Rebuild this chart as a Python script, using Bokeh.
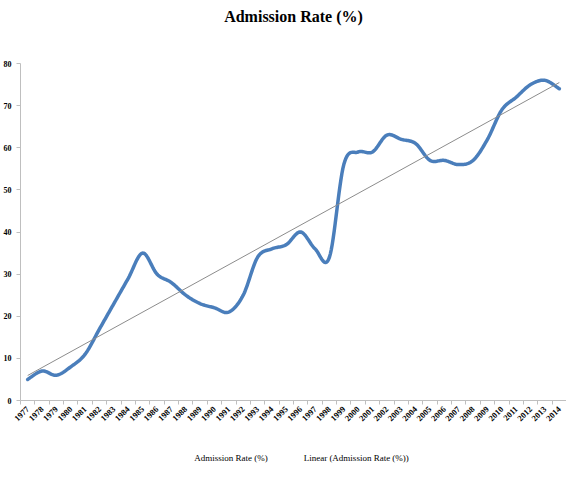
import numpy as np
from bokeh.plotting import figure
from bokeh.layouts import column
from bokeh.models import Range1d, FixedTicker, Legend, LegendItem, Title
from bokeh.embed import file_html
from bokeh.resources import INLINE

years = [str(y) for y in range(1977, 2015)]
admission_rate = [5, 7, 6, 8, 11, 17, 23, 29, 35, 30, 28, 25, 23, 22, 21, 25, 34, 36, 37, 40,
                  36, 34, 56, 59, 59, 63, 62, 61, 57, 57, 56, 57, 62, 69, 72, 75, 76, 74]
y_ticks = [0, 10, 20, 30, 40, 50, 60, 70, 80]
series_name = "Admission Rate (%)"
trend_name = "Linear (Admission Rate (%))"

n = len(years)
xc = np.arange(n) + 0.5
yv = np.array(admission_rate, dtype=float)

# Smoothed line (Excel-style Bezier smoothing) through the data points
sx, sy = [], []
for i in range(n - 1):
    p0 = np.array([xc[max(i - 1, 0)], yv[max(i - 1, 0)]])
    p1 = np.array([xc[i], yv[i]])
    p2 = np.array([xc[i + 1], yv[i + 1]])
    p3 = np.array([xc[min(i + 2, n - 1)], yv[min(i + 2, n - 1)]])
    c1 = p1 + (p2 - p0) / 6.0
    c2 = p2 - (p3 - p1) / 6.0
    ts = np.linspace(0, 1, 16) if i == n - 2 else np.linspace(0, 1, 16)[:-1]
    for t in ts:
        b = ((1 - t) ** 3) * p1 + 3 * ((1 - t) ** 2) * t * c1 + 3 * (1 - t) * t * t * c2 + (t ** 3) * p2
        sx.append(float(b[0])); sy.append(float(b[1]))

slope, intercept = np.polyfit(xc, yv, 1)
tx = [float(xc[0]), float(xc[-1])]
ty = [float(slope * xc[0] + intercept), float(slope * xc[-1] + intercept)]

BLUE = "#4A7EBB"
GREY = "#8C8C8C"

p = figure(frame_width=546, frame_height=337, x_range=Range1d(0, n), y_range=Range1d(0, 80),
           output_backend="svg", toolbar_location=None, title=None,
           min_border_left=17, min_border_right=0, min_border_top=0, min_border_bottom=0)
p.outline_line_color = None
p.xgrid.grid_line_color = None
p.ygrid.grid_line_color = None
p.background_fill_color = "white"
p.border_fill_color = "white"

# spacer (nearest to the frame) then the visible title
p.add_layout(Title(text=" ", text_font_size="20px"), "above")
p.add_layout(Title(text=series_name, align="center", text_font="Liberation Serif",
                   text_font_style="bold", text_font_size="16px", text_color="black"), "above")

p.line(sx, sy, line_color=BLUE, line_width=3.5, line_join="round", line_cap="round")
p.line(tx, ty, line_color=GREY, line_width=1)

xa = p.xaxis[0]
xa.ticker = FixedTicker(ticks=[float(v) for v in xc], minor_ticks=list(range(n + 1)))
xa.major_label_overrides = {float(x): y for x, y in zip(xc, years)}
xa.major_tick_out = 0
xa.major_tick_in = 0
xa.minor_tick_out = 4
xa.minor_tick_in = 0
xa.minor_tick_line_color = "#BFBFBF"
xa.axis_line_color = "#BFBFBF"
xa.major_label_orientation = 0.785398
xa.major_label_text_font = "Liberation Serif"
xa.major_label_text_font_style = "bold"
xa.major_label_text_font_size = "8.5px"
xa.major_label_text_color = "black"
xa.major_label_standoff = 3

ya = p.yaxis[0]
ya.ticker = FixedTicker(ticks=y_ticks)
ya.major_tick_out = 4
ya.major_tick_in = 0
ya.minor_tick_line_color = None
ya.major_tick_line_color = "#BFBFBF"
ya.axis_line_color = "#BFBFBF"
ya.major_label_text_font = "Liberation Serif"
ya.major_label_text_font_style = "bold"
ya.major_label_text_font_size = "8px"
ya.major_label_text_color = "black"
ya.major_label_standoff = 5

# Legend strip below the chart
lg = figure(width=563, height=40, x_range=Range1d(0, 1), y_range=Range1d(0, 1),
            output_backend="svg", toolbar_location=None, min_border=0)
lg.axis.visible = False
lg.xgrid.grid_line_color = None
lg.ygrid.grid_line_color = None
lg.outline_line_color = None
lr1 = lg.line(x=[], y=[], line_color=BLUE, line_width=3.5)
lr2 = lg.line(x=[], y=[], line_color=GREY, line_width=1)

legend = Legend(items=[LegendItem(label=series_name, renderers=[lr1]),
                       LegendItem(label=trend_name, renderers=[lr2])],
                orientation="horizontal", location="bottom_center")
legend.border_line_color = None
legend.background_fill_alpha = 0
legend.label_text_font = "Liberation Serif"
legend.label_text_font_size = "9px"
legend.label_text_color = "black"
legend.label_height = 12
legend.glyph_width = 19
legend.glyph_height = 8
legend.label_standoff = 1
legend.spacing = 16
legend.padding = 0
legend.margin = 2
lg.add_layout(legend, "center")

layout = column(p, lg, spacing=0)
open("out.html", "w").write(file_html(layout, INLINE))
